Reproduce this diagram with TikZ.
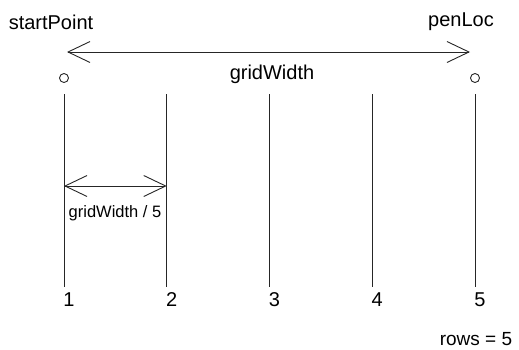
\documentclass[tikz,border=0pt]{standalone}
\usepackage{fontspec}
\setmainfont{Liberation Sans}
\usetikzlibrary{arrows.meta}
\begin{document}
\begin{tikzpicture}[x=1pt,y=-1pt,
  lbl/.style={inner sep=0pt,font=\fontsize{20}{22}\selectfont},
  smalllbl/.style={inner sep=0pt,font=\fontsize{16.5}{18}\selectfont},
  gridline/.style={draw=black!85,line width=0.9pt},
  dim/.style={draw=black!85,line width=0.9pt,{Straight Barb[length=22pt,width=21pt]}-{Straight Barb[length=22pt,width=21pt]}},
  pt/.style={circle,draw=black!85,line width=0.9pt,minimum size=9pt,inner sep=0pt}]
\useasboundingbox (0,0) rectangle (519,349);
% labels
\node[lbl] (start) at (51,22) {startPoint};
\node[lbl] (pen) at (461,22) {penLoc};
% dimension arrow
\coordinate (aL) at (67,52);
\coordinate (aR) at (470,52);
\draw[dim] (aL) -- (aR);
\node[lbl] (gw) at (272,74) {gridWidth};
% points
\node[pt] (sp) at (64,78) {};
\node[pt] (pl) at (475,78) {};
% grid lines
\foreach \i/\x in {1/64,2/166.75,3/269.5,4/372.25,5/475}{
  \coordinate (t\i) at (\x,94);
  \coordinate (b\i) at (\x,287);
  \draw[gridline] (t\i) -- (b\i);
  \node[lbl] (n\i) at (\x+5,300) {\i};
}
% small dimension
\coordinate (s1) at (64,186);
\coordinate (s2) at (166.75,186);
\draw[dim] (s1) -- (s2);
\node[smalllbl] (gw5) at (115,213) {gridWidth / 5};
\node[inner sep=0pt,font=\fontsize{19}{21}\selectfont] (rows) at (476,339) {rows = 5};
\end{tikzpicture}
\end{document}
